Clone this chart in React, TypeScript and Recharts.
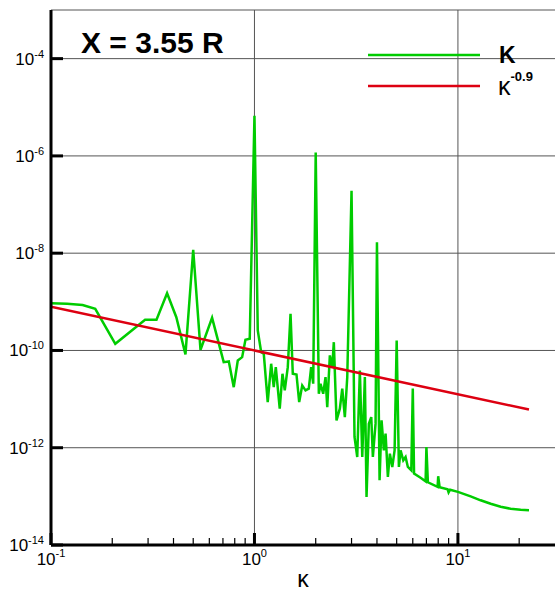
import React from "react"
import { LineChart, Line, XAxis, YAxis, CartesianGrid, ReferenceLine } from "recharts"

// wavenumber (kappa) and spectral energy
const specK = [
    0.1, 0.12, 0.143, 0.165, 0.207, 0.29, 0.33, 0.372, 0.413, 0.458,
    0.5, 0.543, 0.619, 0.706, 0.748, 0.791, 0.828, 0.87, 0.903, 0.948,
    1.0, 1.038, 1.079, 1.111, 1.162, 1.208, 1.244, 1.273, 1.331, 1.373,
    1.409, 1.458, 1.504, 1.543, 1.609, 1.659, 1.717, 1.782, 1.849, 1.9,
    1.944, 2.0, 2.072, 2.112, 2.177, 2.235, 2.279, 2.347, 2.412, 2.455,
    2.531, 2.628, 2.701, 2.781, 2.858, 3.0, 3.103, 3.2, 3.296, 3.387,
    3.488, 3.555, 3.649, 3.75, 3.819, 3.937, 4.0, 4.12, 4.214, 4.325,
    4.41, 4.526, 4.629, 4.757, 4.884, 5.0, 5.127, 5.226, 5.388, 5.53,
    5.675, 5.899, 6.0, 6.087, 6.553, 6.936, 7.0, 7.118, 7.946, 8.0,
    8.128, 8.899, 9.0, 9.154, 10.0, 11.55, 12.93, 14.49, 16.22, 18.16,
    20.34, 22.35,
]
const specE = [
    9.35e-10, 9.1e-10, 8.6e-10, 7.2e-10, 1.37e-10, 4.27e-10, 4.27e-10, 1.5e-9, 4.83e-10, 8.3e-11,
    1.17e-8, 1.03e-10, 4.69e-10, 5.75e-11, 5.94e-11, 1.76e-11, 6.23e-11, 7.28e-11, 1.66e-10, 1.74e-10,
    6.69e-6, 2.57e-10, 9.2e-11, 8.6e-11, 8.7e-12, 5.33e-11, 1.76e-11, 4.54e-11, 6.35e-12, 3.32e-11,
    1.51e-11, 4.54e-11, 5.67e-10, 3.32e-11, 3.21e-11, 8.7e-12, 1.91e-11, 1.51e-11, 1.64e-11, 4.54e-11,
    2.07e-11, 1.18e-6, 1.29e-11, 2.07e-11, 1.29e-11, 2.83e-11, 6.85e-12, 7.9e-11, 4.54e-11, 1.48e-10,
    3.65e-12, 6.35e-12, 1.64e-11, 4.27e-12, 2.83e-11, 1.93e-7, 1.66e-12, 6.44e-13, 3.88e-11, 6.44e-13,
    2.83e-11, 9.7e-14, 3.13e-12, 4.27e-12, 6.44e-13, 3.13e-12, 1.67e-8, 2.14e-13, 3.65e-12, 8.85e-13,
    1.95e-12, 2.5e-13, 7.57e-13, 4.02e-13, 8.85e-13, 1.6e-10, 4.02e-13, 8.85e-13, 5.51e-13, 6.44e-13,
    4.02e-13, 3.44e-13, 1.64e-11, 2.94e-13, 2.41e-13, 2.04e-13, 1.03e-12, 1.95e-13, 1.57e-13, 2.59e-13,
    1.54e-13, 1.4e-13, 1.21e-13, 1.37e-13, 1.24e-13, 1.0e-13, 8.3e-14, 7.05e-14, 6.1e-14, 5.56e-14,
    5.31e-14, 5.18e-14,
]

// kappa^-0.9 reference line, end points
const fitK = [0.1, 22.35]
const fitE = [7.94e-10, 6.1e-12]

const xTicks = [
    0.1, 0.2, 0.3, 0.4, 0.5, 0.6, 0.7, 0.8, 0.9,
    1, 2, 3, 4, 5, 6, 7, 8, 9,
    10, 20,
]
const yTicks = [1e-14, 1e-12, 1e-10, 1e-8, 1e-6, 1e-4]

const specData = specK.map((k, i) => ({ k, v: specE[i] }))
const fitData = fitK.map((k, i) => ({ k, v: fitE[i] }))

const FONT = "'Liberation Sans', Arial, Helvetica, sans-serif"
const GREEN = "#00cc00"
const RED = "#dd0011"

function XTick(props: any) {
    const { x, y, payload } = props
    const lg = Math.log10(payload.value)
    const e = Math.round(lg)
    const major = Math.abs(lg - e) < 1e-6
    return (
        <g>
            <line x1={x} x2={x} y1={y} y2={y - (major ? 12 : 7)} stroke="#000" strokeWidth={major ? 3 : 1.2} />
            {major && (
                <text x={x} y={y + 20} textAnchor="middle" fontSize={17} fontFamily={FONT} fill="#000">
                    <tspan>10</tspan>
                    <tspan dy={-8} fontSize={11}>{e}</tspan>
                </text>
            )}
        </g>
    )
}

function YTick(props: any) {
    const { x, y, payload } = props
    const e = Math.round(Math.log10(payload.value))
    return (
        <g>
            <line x1={x} x2={x + 12} y1={y} y2={y} stroke="#000" strokeWidth={3} />
            <text x={x - 7} y={y + 6} textAnchor="end" fontSize={17} fontFamily={FONT} fill="#000">
                <tspan>10</tspan>
                <tspan dy={-7} fontSize={11}>{e}</tspan>
            </text>
        </g>
    )
}

export default function App() {
    return (
        <div style={{ position: "absolute", left: 0, top: 0, width: 557, height: 591, background: "#fff" }}>
            <LineChart width={557} height={591} margin={{ top: 10, right: 2, bottom: 0, left: 0 }}>
                <CartesianGrid vertical={false} stroke="#555" strokeWidth={1} />
                <ReferenceLine x={1} stroke="#555" strokeWidth={1} />
                <ReferenceLine x={10} stroke="#555" strokeWidth={1} />
                <XAxis
                    dataKey="k"
                    type="number"
                    scale="log"
                    domain={[0.1, 30]}
                    allowDataOverflow
                    ticks={xTicks}
                    interval={0}
                    height={46}
                    tickSize={0}
                    tickMargin={0}
                    tickLine={false}
                    tick={<XTick />}
                    axisLine={{ stroke: "#000", strokeWidth: 3 }}
                />
                <YAxis
                    dataKey="v"
                    type="number"
                    scale="log"
                    domain={[1e-14, 1e-3]}
                    allowDataOverflow
                    ticks={yTicks}
                    interval={0}
                    width={51}
                    tickSize={0}
                    tickMargin={0}
                    tickLine={false}
                    tick={<YTick />}
                    axisLine={{ stroke: "#000", strokeWidth: 3 }}
                />
                <Line data={specData} dataKey="v" type="linear" stroke={GREEN} strokeWidth={2.5} dot={false} isAnimationActive={false} />
                <Line data={fitData} dataKey="v" type="linear" stroke={RED} strokeWidth={2.5} dot={false} isAnimationActive={false} />
            </LineChart>
            <svg width={557} height={591} style={{ position: "absolute", left: 0, top: 0, pointerEvents: "none" }}>
                <text x={81} y={53} fontSize={30} fontWeight="bold" fontFamily={FONT} fill="#000">X = 3.55 R</text>
                <line x1={368} x2={480} y1={55} y2={55} stroke={GREEN} strokeWidth={2.5} />
                <text x={499} y={63} fontSize={23} fontWeight="bold" fontFamily={FONT} fill="#000">K</text>
                <line x1={368} x2={480} y1={86} y2={86} stroke={RED} strokeWidth={2.5} />
                <text x={498} y={95} fontSize={25} fontFamily={FONT} fill="#000">
                    <tspan>κ</tspan>
                    <tspan dy={-14} fontSize={13} fontWeight="bold">-0.9</tspan>
                </text>
                <text x={303} y={587} textAnchor="middle" fontSize={23} fontFamily={FONT} fill="#000">κ</text>
            </svg>
        </div>
    )
}
